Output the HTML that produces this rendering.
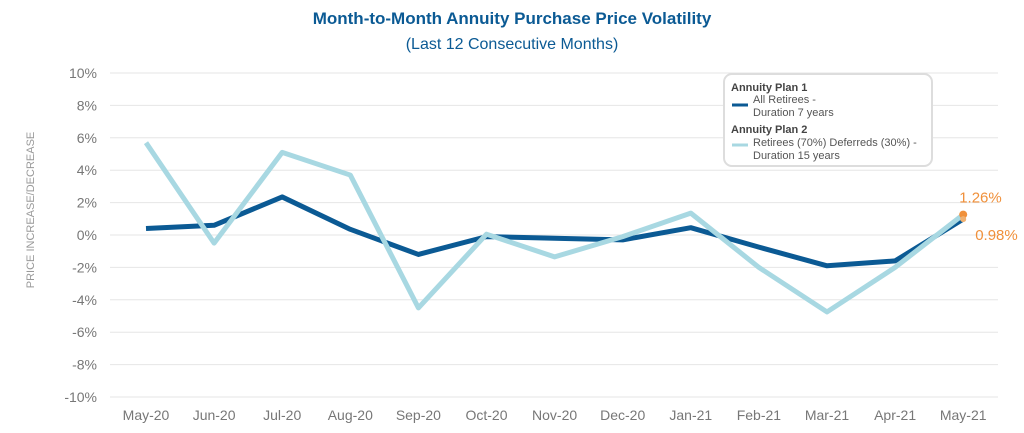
<!DOCTYPE html>
<html><head><meta charset="utf-8"><style>
body{margin:0;background:#fff;}
svg{display:block;font-family:"Liberation Sans",sans-serif;}
</style></head><body>
<svg id="c" width="1024" height="433">
<text x="512" y="24" text-anchor="middle" font-size="17" font-weight="bold" fill="#0b5a94">Month-to-Month Annuity Purchase Price Volatility</text>
<text x="512" y="49" text-anchor="middle" font-size="16" fill="#0b5a94">(Last 12 Consecutive Months)</text>
<text transform="translate(34,210) rotate(-90)" text-anchor="middle" font-size="11" fill="#999">PRICE INCREASE/DECREASE</text>
<g id="grid"></g><g id="series"></g>
<g>
<rect x="724" y="74" width="208" height="92" rx="8" fill="#fff" stroke="#ddd" stroke-width="2"/>
<text x="731" y="91" font-size="11" font-weight="bold" fill="#444">Annuity Plan 1</text>
<line x1="732" y1="105" x2="748" y2="105" stroke="#0b5a94" stroke-width="3"/>
<text x="753" y="103" font-size="11" fill="#555">All Retirees -</text>
<text x="753" y="116" font-size="11" fill="#555">Duration 7 years</text>
<text x="731" y="133" font-size="11" font-weight="bold" fill="#444">Annuity Plan 2</text>
<line x1="732" y1="145" x2="748" y2="145" stroke="#a8d8e2" stroke-width="3"/>
<text x="753" y="146" font-size="11" fill="#555">Retirees (70%) Deferreds (30%) -</text>
<text x="753" y="159" font-size="11" fill="#555">Duration 15 years</text>
</g>
</svg>
<script>
const months=["May-20","Jun-20","Jul-20","Aug-20","Sep-20","Oct-20","Nov-20","Dec-20","Jan-21","Feb-21","Mar-21","Apr-21","May-21"];
const plan1=[0.4,0.6,2.35,0.35,-1.2,-0.1,-0.2,-0.3,0.45,-0.75,-1.9,-1.6,0.98];
const plan2=[5.7,-0.5,5.1,3.7,-4.5,0.05,-1.35,-0.1,1.35,-2.0,-4.75,-2.0,1.26];
const yTicks=[10,8,6,4,2,0,-2,-4,-6,-8,-10];
const NS="http://www.w3.org/2000/svg";
const x=i=>146+i*68.1;
const y=v=>235-v*16.2;
function mk(t,a,p){const e=document.createElementNS(NS,t);for(const k in a)e.setAttribute(k,a[k]);p.appendChild(e);return e;}
const g=document.getElementById('grid'),s=document.getElementById('series');
yTicks.forEach(v=>{
 const l=mk('line',{x1:110,x2:998,y1:y(v),y2:y(v),stroke:'#e6e6e6','stroke-width':1},g);
 
 
 const t=mk('text',{x:97,y:y(v)+5,'text-anchor':'end','font-size':14,fill:'#777'},g);
 t.textContent=v+'%';
 
 
});
months.forEach((m,i)=>{
 const t=mk('text',{x:x(i),y:420,'text-anchor':'middle','font-size':14,fill:'#777'},g);
 t.textContent=m;
 
 
});
function line(d,c,name){
 const p=mk('polyline',{points:d.map((v,i)=>x(i)+','+y(v)).join(' '),fill:'none',stroke:c,'stroke-width':5,'stroke-linejoin':'round'},s);
 
 
}
line(plan1,'#0b5a94','plan1-line');
line(plan2,'#a8d8e2','plan2-line');
const n=months.length-1;
const d1=mk('circle',{cx:x(n),cy:y(plan2[n]),r:4,fill:'#f0903a'},s);


const d2=mk('circle',{cx:x(n),cy:y(plan1[n]),r:3,fill:'#f0b070'},s);


const l1=mk('text',{x:x(n)-4,y:y(plan2[n])-12,'font-size':15,fill:'#f0903a'},s);
l1.textContent=plan2[n].toFixed(2)+'%';


const l2=mk('text',{x:x(n)+12,y:y(plan1[n])+21,'font-size':15,fill:'#f0903a'},s);
l2.textContent=plan1[n].toFixed(2)+'%';


</script>
</body></html>
